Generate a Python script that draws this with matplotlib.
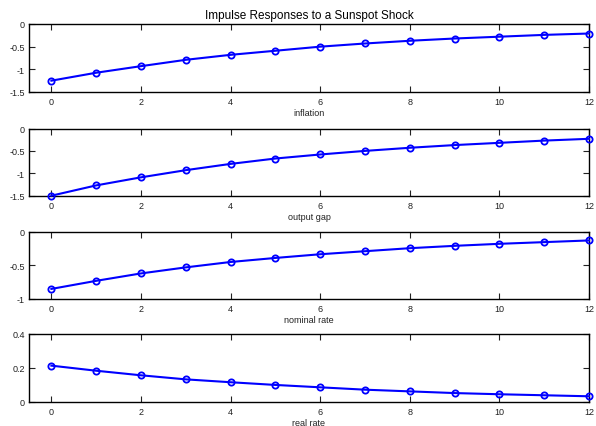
import numpy as np
import matplotlib.pyplot as plt

plt.rcParams['font.family'] = ['Liberation Sans', 'DejaVu Sans']

periods = np.arange(13)

inflation = [-1.25, -1.075, -0.93, -0.79, -0.68, -0.59, -0.50, -0.43, -0.37, -0.32, -0.28, -0.24, -0.21]
output_gap = [-1.50, -1.27, -1.09, -0.93, -0.79, -0.67, -0.58, -0.50, -0.43, -0.37, -0.32, -0.27, -0.23]
nominal_rate = [-0.85, -0.73, -0.62, -0.53, -0.45, -0.39, -0.335, -0.29, -0.245, -0.21, -0.18, -0.155, -0.13]
real_rate = [0.213, 0.183, 0.156, 0.132, 0.115, 0.099, 0.085, 0.071, 0.061, 0.051, 0.044, 0.038, 0.032]

series = [inflation, output_gap, nominal_rate, real_rate]
names = ["inflation", "output gap", "nominal rate", "real rate"]
ylims = [(-1.5, 0), (-1.5, 0), (-1, 0), (0, 0.4)]
yticks = [[-1.5, -1, -0.5, 0], [-1.5, -1, -0.5, 0], [-1, -0.5, 0], [0, 0.2, 0.4]]

fig = plt.figure(figsize=(5.96, 4.27), dpi=100)

# axes tops / bottoms in pixels (from top of figure)
tops = [25, 129.5, 232.7, 335]
bottoms = [93, 196.7, 300, 402.7]
W, H = 596.0, 427.0
left, right = 29, 589

for i in range(4):
    ax = fig.add_axes([left / W, 1 - bottoms[i] / H, (right - left) / W, (bottoms[i] - tops[i]) / H])
    ax.plot(periods, series[i], '-o', color='#0000ff', lw=1.5, ms=4.5,
            mfc='none', mec='#0000ff', mew=1.3, clip_on=False, zorder=3)
    ax.set_xlim(-0.5, 12)
    ax.set_ylim(*ylims[i])
    ax.set_xticks([0, 2, 4, 6, 8, 10, 12])
    ax.set_yticks(yticks[i])
    ax.set_yticklabels([('%g' % v) for v in yticks[i]])
    ax.tick_params(direction='in', top=True, right=True, length=4, width=0.8,
                   labelsize=6.5, colors='#222222')
    ax.tick_params(axis='x', pad=3.5)
    ax.tick_params(axis='y', pad=3)
    for s in ax.spines.values():
        s.set_linewidth(1.0)
    ax.set_xlabel(names[i], fontsize=6.5, labelpad=1.5, color='#222222')
    if i == 0:
        ax.set_title("Impulse Responses to a Sunspot Shock", fontsize=8.5, pad=4)

fig.savefig("out.png", dpi=100)
